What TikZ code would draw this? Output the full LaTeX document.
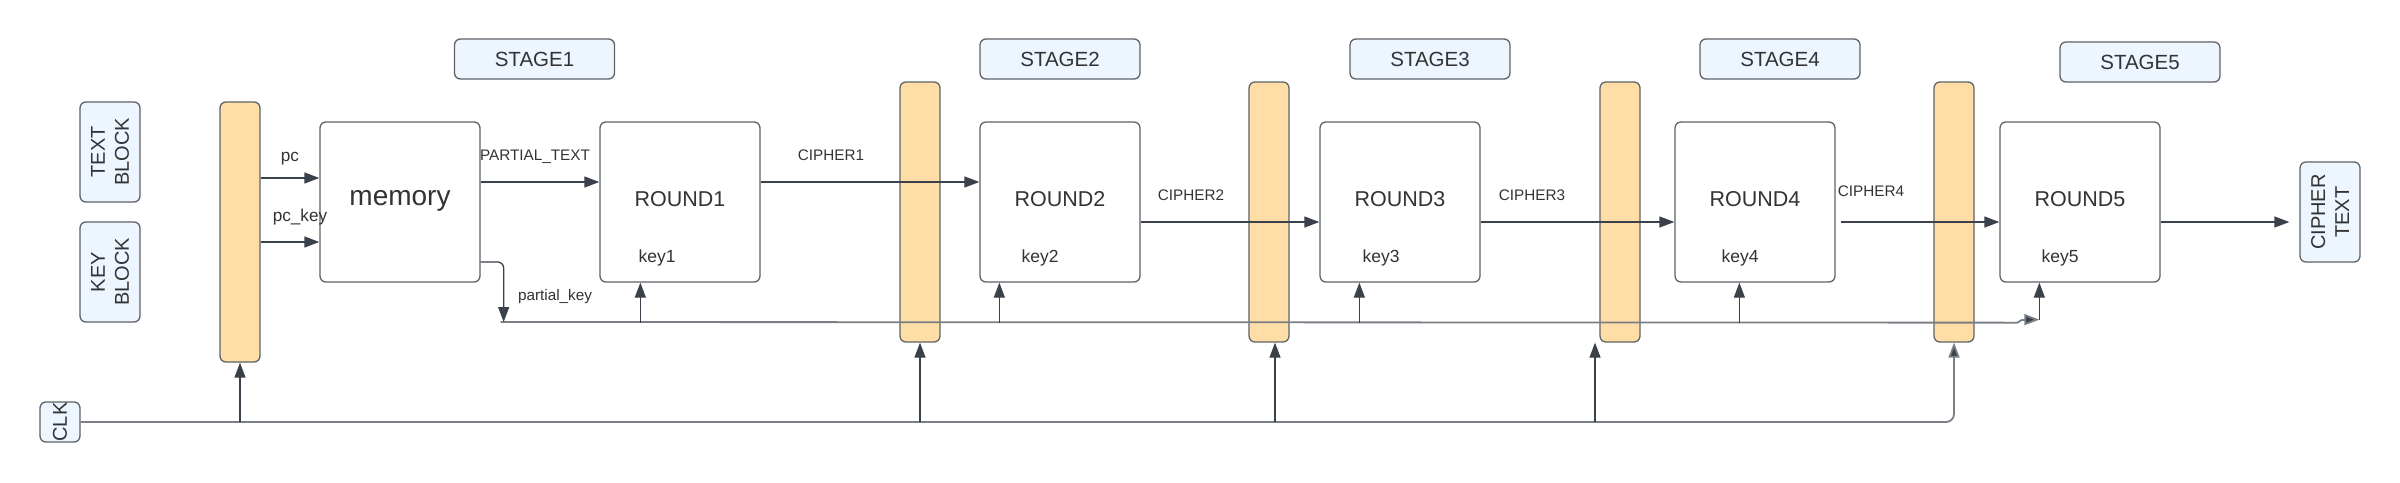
\documentclass[tikz,border=0pt]{standalone}
\usepackage{fontspec}
\setmainfont{Liberation Sans}
\usetikzlibrary{arrows.meta,calc}
\definecolor{regfill}{HTML}{FFDDA6}
\definecolor{lblue}{HTML}{EDF5FF}
\definecolor{bord}{HTML}{5F6368}
\definecolor{ln}{HTML}{3A414A}
\definecolor{busc}{HTML}{7A7F85}
\definecolor{txt}{HTML}{333333}
\begin{document}
\begin{tikzpicture}[x=1pt,y=-1pt,
  box/.style={draw=bord, line width=1.3pt, rounded corners=6pt, fill=white,
    minimum width=160pt, minimum height=160pt, inner sep=0pt},
  regbox/.style={draw=bord, line width=1.3pt, rounded corners=6pt, fill=regfill,
    minimum width=40pt, minimum height=260pt, inner sep=0pt},
  stagebox/.style={draw=bord, line width=1.3pt, rounded corners=6pt, fill=lblue,
    minimum width=160pt, minimum height=40pt, inner sep=0pt, text=txt,
    font=\fontsize{20.5}{24}\selectfont},
  iobox/.style={draw=bord, line width=1.3pt, rounded corners=6pt, fill=lblue,
    inner sep=0pt, text=txt, rotate=90, align=center,
    font=\fontsize{20}{24}\selectfont},
  rtxt/.style={anchor=base, inner sep=0pt, text=txt, font=\fontsize{21.5}{24}\selectfont},
  mtxt/.style={anchor=base, inner sep=0pt, text=txt, font=\fontsize{28}{32}\selectfont},
  ktxt/.style={anchor=base, inner sep=0pt, text=txt, font=\fontsize{17.5}{20}\selectfont},
  ltxt/.style={anchor=base, inner sep=0pt, text=txt, font=\fontsize{15.3}{18}\selectfont},
  ptxt/.style={anchor=base, inner sep=0pt, text=txt, font=\fontsize{17.2}{20}\selectfont},
  arr/.style={draw=ln, line width=1.3pt, -{Triangle[length=15pt,width=11pt]}},
  busline/.style={draw=busc, line width=1.8pt},
  busarr/.style={draw=busc, line width=1.8pt, -{Triangle[length=15pt,width=11pt,fill=ln]}}
]
\fill[white] (0,0) rectangle (2400,482);
\useasboundingbox (0,0) rectangle (2400,482);

% level coordinates
\coordinate (ypc) at (0,178);
\coordinate (ypck) at (0,242);
\coordinate (ypt) at (0,182);
\coordinate (yc2) at (0,222);
\coordinate (ypk) at (0,262);
\coordinate (ybus) at (0,322);
\coordinate (yclk) at (0,422);

% input / output blocks (rotated: node south = right side, north = left side)
\node[iobox, minimum width=100pt, minimum height=60pt] (tb) at (110,152) {TEXT\\BLOCK};
\node[iobox, minimum width=100pt, minimum height=60pt] (kb) at (110,272) {KEY\\BLOCK};
\node[iobox, minimum width=40pt, minimum height=40pt] (clk) at (60,422) {CLK};
\node[iobox, minimum width=100pt, minimum height=60pt] (ct) at (2330,212) {CIPHER\\TEXT};

% stage labels
\node[stagebox] (st1) at (534.5,59) {STAGE1};
\node[stagebox] (st2) at (1060,59) {STAGE2};
\node[stagebox] (st3) at (1430,59) {STAGE3};
\node[stagebox] (st4) at (1780,59) {STAGE4};
\node[stagebox] (st5) at (2140,62) {STAGE5};

% pipeline registers
\node[regbox] (reg0) at (240,232) {};
\node[regbox] (reg1) at (920,212) {};
\node[regbox] (reg2) at (1269,212) {};
\node[regbox] (reg3) at (1620,212) {};
\node[regbox] (reg4) at (1954,212) {};

% main boxes
\node[box] (mem) at (400,202) {};
\node[box] (r1) at (680,202) {};
\node[box] (r2) at (1060,202) {};
\node[box] (r3) at (1400,202) {};
\node[box] (r4) at (1755,202) {};
\node[box] (r5) at (2080,202) {};

\node[mtxt] (memt) at (400,205) {memory};
\node[rtxt] (r1t) at (680,206) {ROUND1};
\node[rtxt] (r2t) at (1060,206) {ROUND2};
\node[rtxt] (r3t) at (1400,206) {ROUND3};
\node[rtxt] (r4t) at (1755,206) {ROUND4};
\node[rtxt] (r5t) at (2080,206) {ROUND5};

\node[ktxt] (k1t) at (657,262) {key1};
\node[ktxt] (k2t) at (1040,262) {key2};
\node[ktxt] (k3t) at (1381,262) {key3};
\node[ktxt] (k4t) at (1740,262) {key4};
\node[ktxt] (k5t) at (2060,262) {key5};

% data connectors
\draw[arr] (reg0.east|-ypc) -- (mem.west|-ypc);
\draw[arr] (reg0.east|-ypck) -- (mem.west|-ypck);
\draw[arr] (mem.east|-ypt) -- (r1.west|-ypt);
\draw[arr] (r1.east|-ypt) -- (r2.west|-ypt);
\draw[arr] (r2.east|-yc2) -- (r3.west|-yc2);
\draw[arr] (r3.east|-yc2) -- (r4.west|-yc2);
\draw[arr] ($(r4.east|-yc2)+(5,0)$) -- (r5.west|-yc2);
\draw[arr] (r5.east|-yc2) -- ($(ct.north|-yc2)+(-10,0)$);

\node[ptxt] (pcl) at (290,161.7) {pc};
\node[ptxt] (pckl) at (300,221.7) {pc\_key};
\node[ltxt] (ptl) at (535,160.5) {PARTIAL\_TEXT};
\node[ltxt] (c1l) at (831,160) {CIPHER1};
\node[ltxt] (c2l) at (1191,200) {CIPHER2};
\node[ltxt] (c3l) at (1532,200) {CIPHER3};
\node[ltxt] (c4l) at (1871,196) {CIPHER4};
\node[ltxt] (pkl) at (555,300.7) {partial\_key};

% key bus
\coordinate (bus0) at ($(mem.east|-ybus)+(20,0)$);
\coordinate (k5b) at ($(r5.south west)+(40,40)$);
\draw[busline] (bus0) -- ($(k5b)+(-22,0)$) -- ($(k5b)+(-17,-3)$);
\draw[busarr] ($(k5b)+(-17,-3)$) -- ($(k5b)+(0,-3)$);
\draw[arr, rounded corners=6pt] (mem.east|-ypk) -| ($(mem.east|-ybus)+(23,0)$);
\draw[arr] ($(r1.south west)+(41,40)$) -- ($(r1.south west)+(41,0)$);
\draw[arr] ($(r2.south west)+(20,40)$) -- ($(r2.south west)+(20,0)$);
\draw[arr] ($(r3.south west)+(40,40)$) -- ($(r3.south west)+(40,0)$);
\draw[arr] ($(r4.south west)+(65,40)$) -- ($(r4.south west)+(65,0)$);
\draw[arr] ($(k5b)+(0,-3)$) -- ($(r5.south west)+(40,0)$);

% clock
\draw[busarr, rounded corners=8pt] (clk.south) -| (reg4.south);
\draw[arr] (reg0.south|-yclk) -- (reg0.south);
\draw[arr] (reg1.south|-yclk) -- (reg1.south);
\draw[arr] ($(reg2.south|-yclk)+(6,0)$) -- ($(reg2.south)+(6,0)$);
\draw[arr] ($(reg3.south|-yclk)+(-25,0)$) -- ($(reg3.south)+(-25,0)$);
\end{tikzpicture}
\end{document}
